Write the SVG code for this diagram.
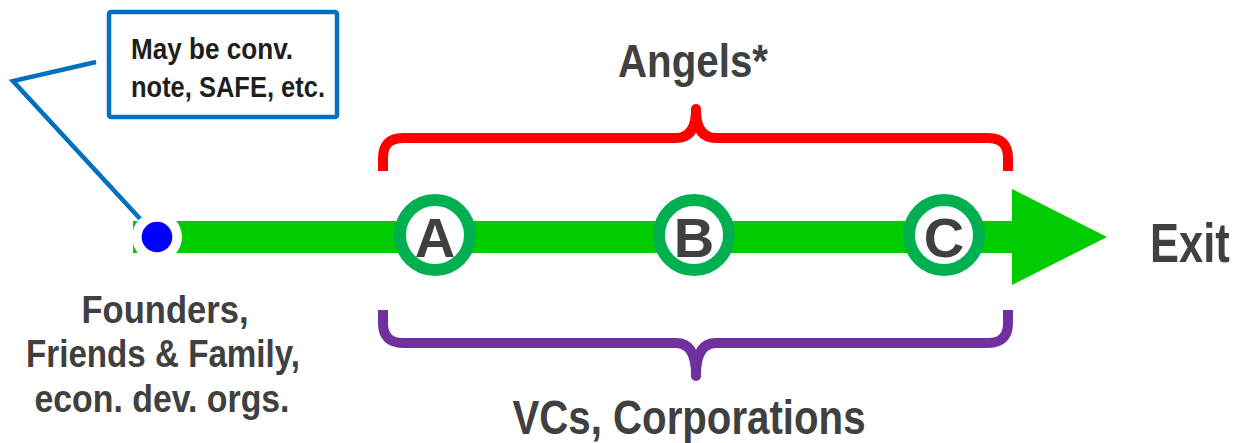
<svg xmlns="http://www.w3.org/2000/svg" width="1237" height="443" viewBox="0 0 1237 443">
<style>
.t{font-family:"Liberation Sans",Arial,sans-serif;font-weight:bold;fill:#404040}
.lbl{text-anchor:middle}
.ring{fill:#fff;stroke:#00B050;stroke-width:12}
.brace{fill:none;stroke-width:10;stroke-linejoin:round}
</style>
<rect width="1237" height="443" fill="#fff"/>
<g id="connectors">
  <rect x="133" y="221" width="880" height="32" fill="#00CC00"/>
  <polygon points="1012,189 1107,237 1012,285" fill="#00CC00"/>
  <polyline points="96,62 13,81 144,223" fill="none" stroke="#0070C0" stroke-width="4.5"/>
</g>
<g id="start">
  <circle cx="157" cy="237" r="25" fill="#fff"/>
  <circle cx="157" cy="237" r="15.3" fill="#0000FF"/>
</g>
<g id="note">
  <rect x="109" y="12" width="228" height="105" rx="2" fill="#fff" stroke="#0070C0" stroke-width="4.5"/>
  <text class="t" x="131" y="59" font-size="30" textLength="162" lengthAdjust="spacingAndGlyphs" style="fill:#1e1e1e">May be conv.</text>
  <text class="t" x="131" y="97" font-size="30" textLength="194" lengthAdjust="spacingAndGlyphs" style="fill:#1e1e1e">note, SAFE, etc.</text>
</g>
<g id="nodeA">
  <circle class="ring" cx="435" cy="235" r="35"/>
  <text class="t lbl" x="435" y="257" font-size="56">A</text>
</g>
<g id="nodeB">
  <circle class="ring" cx="694" cy="235" r="35"/>
  <text class="t lbl" x="694" y="257" font-size="56">B</text>
</g>
<g id="nodeC">
  <circle class="ring" cx="944" cy="235" r="35"/>
  <text class="t lbl" x="944" y="257" font-size="56">C</text>
</g>
<g id="angels">
  <path class="brace" stroke="#FF0000" d="M383 171 V158 Q383 138 403 138 H676 Q696 138 696 110 Q696 138 716 138 H988 Q1008 138 1008 158 V171"/>
  <circle cx="696" cy="109" r="5" fill="#FF0000"/>
  <text class="t lbl" x="693" y="77" font-size="47" textLength="150" lengthAdjust="spacingAndGlyphs">Angels*</text>
</g>
<g id="vcs">
  <path class="brace" stroke="#7030A0" d="M383 310 V323 Q383 343 403 343 H676 Q696 343 696 375 Q696 343 716 343 H988 Q1008 343 1008 323 V310"/>
  <circle cx="696" cy="376" r="5" fill="#7030A0"/>
  <text class="t lbl" x="689" y="434" font-size="48" textLength="353" lengthAdjust="spacingAndGlyphs">VCs, Corporations</text>
</g>
<g id="exit">
  <text class="t" transform="translate(1150 262) scale(0.79 1)" x="0" y="0" font-size="55">Exit</text>
</g>
<g id="founders">
  <text class="t lbl" x="165" y="323" font-size="39" textLength="167" lengthAdjust="spacingAndGlyphs">Founders,</text>
  <text class="t lbl" x="163" y="367" font-size="39" textLength="274" lengthAdjust="spacingAndGlyphs">Friends &amp; Family,</text>
  <text class="t lbl" x="162" y="412" font-size="39" textLength="255" lengthAdjust="spacingAndGlyphs">econ. dev. orgs.</text>
</g>
</svg>
